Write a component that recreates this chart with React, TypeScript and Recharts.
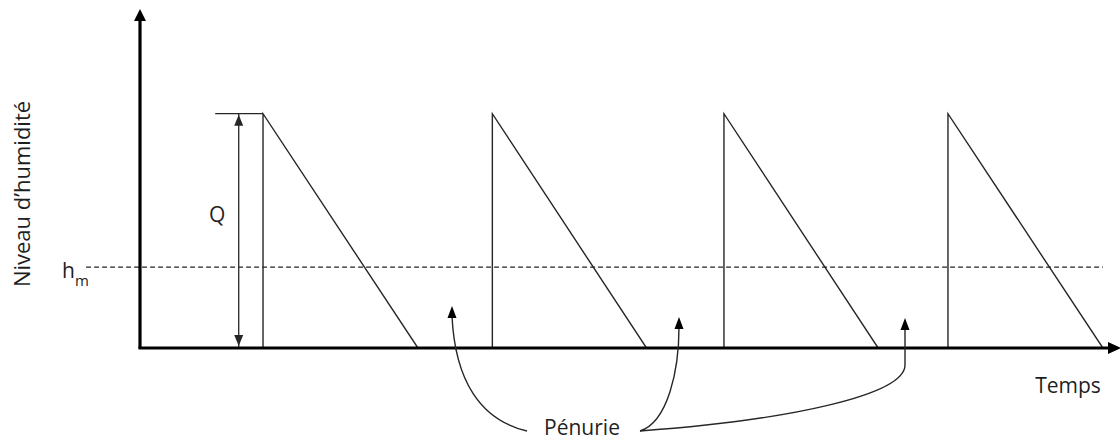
import { LineChart, Line, XAxis, YAxis, ReferenceLine, ReferenceDot } from "recharts"

// durée en jours, niveau en % de Q
const restockDays = [16.2, 46.4, 76.9, 106.4]
const emptyDays = [36.6, 66.7, 97.2, 126.8]
const Q = 100
const hm = 34.5
const timeDomain = [0, 128]
const levelDomain = [0, 140]
const qArrowDay = 13
const qTickStart = 9.9
const hmLineStart = -7.1

const stock = [
  { t: 0, level: 0 },
  ...restockDays.flatMap((d, i) => [
    { t: d, level: 0 },
    { t: d, level: Q },
    { t: emptyDays[i], level: 0 },
  ]),
]

const INK = "#262626"
const FONT = "'Open Sans', 'DejaVu Sans', sans-serif"

function UpArrow({ cx, cy, dy = 0, w = 6, h = 12, fill = "#000" }: any) {
  const y = cy + dy
  return <polygon points={`${cx},${y} ${cx - w},${y + h} ${cx + w},${y + h}`} fill={fill} />
}

function DownArrow({ cx, cy, dy = 0, w = 4.5, h = 11, fill = INK }: any) {
  const y = cy + dy
  return <polygon points={`${cx},${y} ${cx - w},${y - h} ${cx + w},${y - h}`} fill={fill} />
}

function RightArrow({ cx, cy }: any) {
  return <polygon points={`${cx + 9},${cy} ${cx - 4},${cy - 6} ${cx - 4},${cy + 6}`} fill="#000" />
}

function CurvedArrow({ d, tipX, tipY }: { d: string; tipX: number; tipY: number }) {
  return (
    <g>
      <path d={d} fill="none" stroke={INK} strokeWidth={1.4} />
      <polygon points={`${tipX},${tipY} ${tipX - 4.5},${tipY + 12} ${tipX + 4.5},${tipY + 12}`} fill="#000" />
    </g>
  )
}

export default function App() {
  return (
    <div style={{ position: "absolute", left: 0, top: 0, width: 1120, height: 440, background: "#fff" }}>
      <LineChart
        width={1120}
        height={440}
        data={stock}
        margin={{ top: 20, right: 8, bottom: 92, left: 140 }}
      >
        <XAxis type="number" dataKey="t" domain={timeDomain} allowDataOverflow hide />
        <YAxis type="number" domain={levelDomain} allowDataOverflow hide />
        <ReferenceLine
          segment={[
            { x: hmLineStart, y: hm },
            { x: emptyDays[emptyDays.length - 1], y: hm },
          ]}
          stroke={INK}
          strokeWidth={1.2}
          strokeDasharray="5 3"
          ifOverflow="visible"
        />
        <ReferenceLine
          segment={[
            { x: qTickStart, y: Q },
            { x: restockDays[0], y: Q },
          ]}
          stroke={INK}
          strokeWidth={1.3}
          ifOverflow="visible"
        />
        <ReferenceLine
          segment={[
            { x: qArrowDay, y: 0 },
            { x: qArrowDay, y: Q },
          ]}
          stroke={INK}
          strokeWidth={1.3}
          ifOverflow="visible"
        />
        <Line
          dataKey="level"
          type="linear"
          stroke={INK}
          strokeWidth={1.4}
          dot={false}
          activeDot={false}
          isAnimationActive={false}
        />
        {/* axes dessinés comme des traits épais */}
        <ReferenceLine
          segment={[
            { x: 0, y: 0 },
            { x: timeDomain[1], y: 0 },
          ]}
          stroke="#000"
          strokeWidth={3.2}
          strokeLinecap="square"
          ifOverflow="visible"
        />
        <ReferenceLine
          segment={[
            { x: 0, y: 0 },
            { x: 0, y: levelDomain[1] },
          ]}
          stroke="#000"
          strokeWidth={3.2}
          ifOverflow="visible"
        />
        <ReferenceDot
          x={qArrowDay}
          y={Q}
          ifOverflow="visible"
          shape={(p: any) => <UpArrow cx={p.cx} cy={p.cy} dy={1} w={4.5} h={11} fill={INK} />}
        />
        <ReferenceDot
          x={qArrowDay}
          y={0}
          ifOverflow="visible"
          shape={(p: any) => <DownArrow cx={p.cx} cy={p.cy} dy={-2} />}
        />
        <ReferenceDot
          x={0}
          y={levelDomain[1]}
          ifOverflow="visible"
          shape={(p: any) => <UpArrow cx={p.cx} cy={p.cy} dy={-11} />}
        />
        <ReferenceDot
          x={timeDomain[1]}
          y={0}
          ifOverflow="visible"
          shape={(p: any) => <RightArrow cx={p.cx} cy={p.cy} />}
        />
      </LineChart>
      <svg
        width={1120}
        height={440}
        style={{ position: "absolute", left: 0, top: 0, pointerEvents: "none" }}
        fontFamily={FONT}
        fill="#1f1f1f"
      >
        <text x={30} y={194} fontSize={22} textAnchor="middle" transform="rotate(-90 30 194)">
          Niveau d’humidité
        </text>
        <text x={62} y={278} fontSize={21}>
          h
          <tspan fontSize={15} dy={8}>
            m
          </tspan>
        </text>
        <text x={209} y={222} fontSize={21}>
          Q
        </text>
        <text x={1068} y={393} fontSize={21} textAnchor="middle">
          Temps
        </text>
        <text x={582} y={435} fontSize={21} textAnchor="middle">
          Pénurie
        </text>
        <CurvedArrow d="M527,431 C480,420 455,380 452,316" tipX={452} tipY={306} />
        <CurvedArrow d="M640,431 C668,422 679,370 679,327" tipX={679} tipY={317} />
        <CurvedArrow d="M640,431 C790,420 905,395 905,365 L905,328" tipX={905} tipY={318} />
      </svg>
    </div>
  )
}
